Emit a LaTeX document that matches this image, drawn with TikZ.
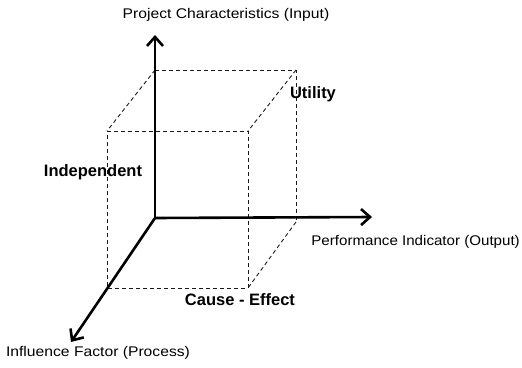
\documentclass[tikz,border=0pt]{standalone}
\usepackage{fontspec}
\setmainfont{Liberation Sans}
\newfontfamily\widefont[FakeStretch=1.12]{Liberation Sans}
\newfontfamily\wideonefont[FakeStretch=1.08]{Liberation Sans}
\usetikzlibrary{arrows.meta}
\begin{document}
\begin{tikzpicture}[x=1pt,y=-1pt,
  axis/.style={line width=2.6pt,-{Straight Barb[length=9pt,width=16pt,line width=2.6pt]}},
  cube/.style={line width=0.9pt,dash pattern=on 4pt off 3pt,gray!20!black},
  lbl/.style={font=\widefont\fontsize{14}{16}\selectfont,inner sep=0pt},
  blbl/.style={font=\fontsize{16.5}{18}\selectfont\bfseries,inner sep=0pt}]
\useasboundingbox (0,0) rectangle (522,367);
% cube corners
\coordinate (btl) at (155,70);
\coordinate (btr) at (296,70);
\coordinate (bbr) at (296,222);
\coordinate (ftl) at (107,131);
\coordinate (ftr) at (248,131);
\coordinate (fbr) at (248,288);
\coordinate (fbl) at (107,288);
\draw[cube] (btl) -- (btr) -- (bbr);
\draw[cube] (btl) -- (ftl);
\draw[cube] (btr) -- (ftr);
\draw[cube] (bbr) -- (fbr);
\draw[cube] (ftl) -- (ftr) -- (fbr) -- (fbl) -- cycle;
% axes
\coordinate (o) at (155,218);
\coordinate (yend) at (155,35);
\coordinate (xend) at (372,217);
\coordinate (zend) at (71,342);
\draw[axis] (o) -- (yend);
\draw[axis] (o) -- (xend);
\draw[axis] (o) -- (zend);
% labels
\node[lbl] (pc) at (226,15) {Project Characteristics (Input)};
\node[lbl,font=\wideonefont\fontsize{14}{16}\selectfont,anchor=east] (pi) at (520,242) {Performance Indicator (Output)};
\node[lbl] (if) at (98,353) {Influence Factor (Process)};
\node[blbl] (ut) at (313,94) {Utility};
\node[blbl] (ind) at (93,172) {Independent};
\node[blbl] (ce) at (240,300) {Cause - Effect};
\end{tikzpicture}
\end{document}
